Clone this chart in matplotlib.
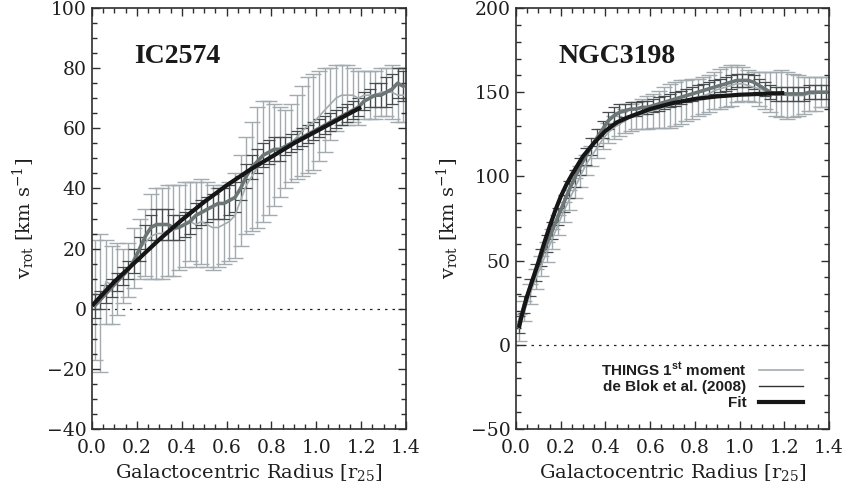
import numpy as np
import matplotlib
matplotlib.use('Agg')
import matplotlib.pyplot as plt
from matplotlib.lines import Line2D
from matplotlib.ticker import MultipleLocator

plt.rcParams['font.family'] = 'DejaVu Serif'
plt.rcParams['mathtext.fontset'] = 'custom'
plt.rcParams['mathtext.rm'] = 'DejaVu Serif'
plt.rcParams['mathtext.it'] = 'DejaVu Serif:italic'
plt.rcParams['mathtext.bf'] = 'Liberation Sans:bold'

# radius grid of the tilted-ring points [r25]
r_pts = np.arange(0.0125, 1.4, 0.025)

# IC2574 - THINGS 1st moment (value, error)
ic_things_v = [3, 2, 9, 8, 10, 11, 13, 17, 20, 22, 24, 25, 25, 26, 26, 27,
               28, 29, 28, 29, 28, 27, 27, 28, 29, 31, 36, 41, 44, 47, 49, 50,
               51, 52, 53, 55, 57, 59, 61, 62, 64, 66, 68, 70, 71, 71, 71, 70,
               71, 71, 71, 72, 72, 72, 71, 71]
ic_things_e = [20, 23, 14, 13, 12, 9, 9, 10, 10, 11, 14, 15, 15, 15, 15, 14,
               14, 13, 14, 14, 14, 14, 13, 13, 13, 14, 15, 16, 18, 20, 20, 19,
               17, 15, 13, 13, 14, 15, 16, 16, 15, 14, 12, 11, 10, 10, 9, 9,
               8, 8, 8, 8, 8, 9, 9, 9]
# IC2574 - de Blok et al. (2008)
ic_deblok_v = [1, 3, 5, 7, 9, 11, 13, 16, 20, 24, 27, 28, 28, 28, 27, 27,
               28, 29, 31, 32, 33, 34, 35, 35, 36, 37, 40, 44, 47, 49, 51, 52,
               53, 53, 54, 55, 56, 57, 58, 59, 60, 61, 62, 63, 64, 65, 66, 67,
               69, 70, 71, 71, 72, 73, 75, 74]
ic_deblok_e = [4, 3, 3, 3, 3, 3, 3, 4, 4, 4, 4, 5, 5, 5, 4, 4,
               4, 4, 4, 4, 4, 4, 5, 5, 5, 5, 4, 4, 4, 4, 4, 4,
               4, 4, 3, 3, 3, 3, 3, 3, 3, 3, 3, 3, 3, 3, 3, 3,
               3, 3, 4, 4, 5, 5, 5, 5]
# IC2574 - fit
ic_fit_r = [0.0, 0.1, 0.2, 0.3, 0.4, 0.5, 0.6, 0.7, 0.8, 0.9, 1.0, 1.1, 1.2]
ic_fit_v = [1, 9, 16, 23, 29.5, 35.5, 41, 46, 50.5, 55, 59, 63, 67]

# NGC3198 - THINGS 1st moment
ngc_things_v = [10, 20, 30, 39, 47, 55, 63, 71, 79, 86, 93, 100, 107, 112, 117, 122,
                126, 129, 131, 133, 135, 136, 137, 138, 139, 140, 141, 142, 143, 144, 145, 146,
                147, 148, 149, 151, 152, 153, 154, 155, 155, 154, 153, 152, 151, 150, 149, 149,
                148, 148, 148, 148, 149, 149, 150, 150]
ngc_things_e = [8, 6, 6, 6, 6, 6, 6, 6, 6, 6, 6, 6, 6, 6, 6, 6,
                6, 7, 7, 7, 8, 8, 9, 10, 10, 11, 12, 13, 13, 13, 12, 12,
                11, 11, 11, 11, 12, 12, 12, 11, 10, 9, 9, 10, 11, 12, 13, 14,
                14, 13, 12, 11, 10, 10, 9, 9]
# NGC3198 - de Blok et al. (2008)
ngc_deblok_v = [12, 24, 34, 43, 52, 60, 68, 76, 84, 92, 99, 106, 112, 118, 123, 128,
                133, 136, 138, 139, 140, 140, 141, 141, 142, 143, 144, 145, 146, 147, 148, 149,
                150, 151, 152, 153, 154, 155, 156, 157, 157, 157, 156, 154, 152, 150, 149, 149,
                149, 149, 149, 149, 150, 150, 150, 150]
ngc_deblok_e = [5] * 19 + [4] * 37
# NGC3198 - fit
ngc_fit_r = [0.013, 0.025, 0.05, 0.075, 0.1, 0.125, 0.15, 0.175, 0.2, 0.225, 0.25,
             0.3, 0.35, 0.4, 0.45, 0.5, 0.6, 0.7, 0.8, 0.9, 1.0, 1.1, 1.2]
ngc_fit_v = [10, 17, 29, 39, 49, 60, 70, 79.5, 88, 95, 101,
             112, 120, 127, 132, 135, 140, 143.5, 146, 147.5, 148.5, 149, 149.5]

light = '#a3abaf'
mid = '#6c7676'
dark = '#474d4f'
axcol = '#2e2e2e'


def panel(ax, things_v, things_e, deblok_v, deblok_e, fit_r, fit_v,
          ylim, major, minor, name, name_y):
    ax.errorbar(r_pts, things_v, yerr=things_e, fmt='none', ecolor=light,
                elinewidth=1.0, capsize=5.5, capthick=1.0, zorder=1)
    ax.errorbar(r_pts, deblok_v, yerr=deblok_e, fmt='none', ecolor=dark,
                elinewidth=0.9, capsize=4.5, capthick=0.9, zorder=2)
    ax.plot(r_pts, things_v, color=light, lw=1.2, zorder=3)
    ax.plot(r_pts, deblok_v, color=mid, lw=2.6, zorder=4)
    ax.plot(fit_r, fit_v, color='#161616', lw=3.0, zorder=5,
            solid_capstyle='butt', solid_joinstyle='round')
    ax.axhline(0, color='#222222', lw=0.9, ls=(0, (2, 4)), zorder=0)

    ax.set_xlim(0, 1.4)
    ax.set_ylim(*ylim)
    ax.xaxis.set_major_locator(MultipleLocator(0.2))
    ax.xaxis.set_minor_locator(MultipleLocator(0.05))
    ax.yaxis.set_major_locator(MultipleLocator(major))
    ax.yaxis.set_minor_locator(MultipleLocator(minor))
    ax.xaxis.set_major_formatter(matplotlib.ticker.FormatStrFormatter('%.1f'))
    ax.tick_params(which='both', direction='in', top=True, right=True,
                   color=axcol, width=1.0, labelsize=13.5, labelcolor='#1e1e1e')
    ax.tick_params(which='major', length=6)
    ax.tick_params(which='minor', length=3.5)
    ax.tick_params(axis='x', pad=7)
    ax.tick_params(axis='y', pad=4)
    for s in ax.spines.values():
        s.set_color(axcol)
        s.set_linewidth(1.2)

    ax.set_xlabel(r'Galactocentric Radius [r$_{\rm 25}$]', fontsize=14,
                  color='#1e1e1e')
    ax.xaxis.set_label_coords(0.5, -0.078)
    ax.set_ylabel(r'v$_{\rm rot}$ [km s$^{-1}$]', fontsize=14, color='#1e1e1e')
    ax.yaxis.set_label_coords(-0.175, 0.5)
    ax.text(0.19, name_y, name, fontsize=20, fontweight='bold',
            family='Liberation Serif', color='#1a1a1a', va='center')


fig = plt.figure(figsize=(8.46, 4.87), dpi=100)
ax1 = fig.add_axes([92 / 846, 1 - 429 / 487, 314 / 846, 421 / 487])
ax2 = fig.add_axes([516 / 846, 1 - 429 / 487, 313 / 846, 421 / 487])

panel(ax1, ic_things_v, ic_things_e, ic_deblok_v, ic_deblok_e,
      ic_fit_r, ic_fit_v, (-40, 100), 20, 5, 'IC2574', 84)
panel(ax2, ngc_things_v, ngc_things_e, ngc_deblok_v, ngc_deblok_e,
      ngc_fit_r, ngc_fit_v, (-50, 200), 50, 10, 'NGC3198', 171)

handles = [Line2D([], [], color=light, lw=1.2),
           Line2D([], [], color='#333333', lw=1.0),
           Line2D([], [], color='#161616', lw=3.0)]
labels = [r'THINGS 1$^{\mathbf{st}}$ moment', 'de Blok et al. (2008)', 'Fit']
leg = ax2.legend(handles, labels, loc='lower right', markerfirst=False,
                 frameon=False, bbox_to_anchor=(0.917, 0.045),
                 borderpad=0, borderaxespad=0, handlelength=2.9,
                 handletextpad=0.8, labelspacing=0.12,
                 prop={'family': 'Liberation Sans', 'weight': 'bold', 'size': 11})
for t in leg.get_texts():
    t.set_color('#1e1e1e')

fig.savefig('out.png', dpi=100)
